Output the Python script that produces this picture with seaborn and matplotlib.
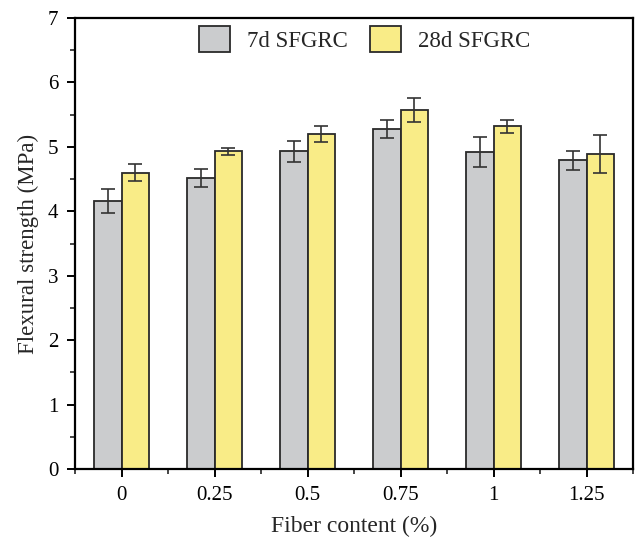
import numpy as np
import pandas as pd
import matplotlib
matplotlib.use("Agg")
import matplotlib.pyplot as plt
from matplotlib.ticker import MultipleLocator
import seaborn as sns

categories = ["0", "0.25", "0.5", "0.75", "1", "1.25"]
series_names = ["7d SFGRC", "28d SFGRC"]
strength_7d = [4.16, 4.52, 4.93, 5.28, 4.92, 4.79]
err_7d = [0.18, 0.14, 0.16, 0.14, 0.235, 0.145]
strength_28d = [4.60, 4.93, 5.20, 5.57, 5.32, 4.89]
err_28d = [0.13, 0.06, 0.13, 0.19, 0.10, 0.30]
colors = ["#CBCCCE", "#F9EC87"]

sns.set_theme(style="ticks")
plt.rcParams['font.family'] = ['Liberation Serif', 'DejaVu Serif']

df = pd.DataFrame({
    "Fiber": categories * 2,
    "Strength": strength_7d + strength_28d,
    "Err": err_7d + err_28d,
    "Series": [series_names[0]] * len(categories) + [series_names[1]] * len(categories),
})

fig = plt.figure(figsize=(6.35, 5.41), dpi=100)
ax = fig.add_axes([75/635, 72/541, 558/635, 451/541])

sns.barplot(data=df, x="Fiber", y="Strength", hue="Series", order=categories,
            hue_order=series_names, palette=colors, width=0.6, errorbar=None,
            edgecolor="#2a2a2a", linewidth=1.3, saturation=1, ax=ax)

# error bars
for cont, errs in zip(ax.containers, [err_7d, err_28d]):
    for patch, e in zip(cont.patches, errs):
        xc = patch.get_x() + patch.get_width() / 2
        ax.errorbar(xc, patch.get_height(), yerr=e, fmt="none", ecolor="#333333",
                    elinewidth=1.2, capsize=5, capthick=1.2, zorder=5)

ax.set_xlim(-0.5, 5.5)
ax.set_ylim(0, 7)
ax.yaxis.set_major_locator(MultipleLocator(1))
ax.yaxis.set_minor_locator(MultipleLocator(0.5))
ax.set_xticks(range(len(categories)))
ax.set_xticklabels(categories)
ax.set_xticks(np.arange(-0.5, 5.6, 1), minor=True)

for s in ax.spines.values():
    s.set_visible(True)
    s.set_linewidth(1.6)
    s.set_color("black")

ax.tick_params(axis="both", which="major", direction="out", length=6, width=1.4,
               labelsize=15, colors="black", pad=6)
ax.tick_params(axis="both", which="minor", direction="out", length=3.5, width=1.2)
ax.tick_params(axis="x", which="major", pad=6)

ax.set_xlabel("Fiber content (%)", fontsize=17, labelpad=8)
ax.set_ylabel("Flexural strength (MPa)", fontsize=16.5, labelpad=6)

leg = ax.legend(loc="center", bbox_to_anchor=(0.519, 0.953), ncol=2, frameon=False,
                fontsize=16.5, handlelength=1.35, handleheight=1.35, columnspacing=0.95,
                handletextpad=0.75)
for h in leg.legend_handles:
    h.set_edgecolor("#2a2a2a")
    h.set_linewidth(1.3)

fig.savefig("out.png", dpi=100)
